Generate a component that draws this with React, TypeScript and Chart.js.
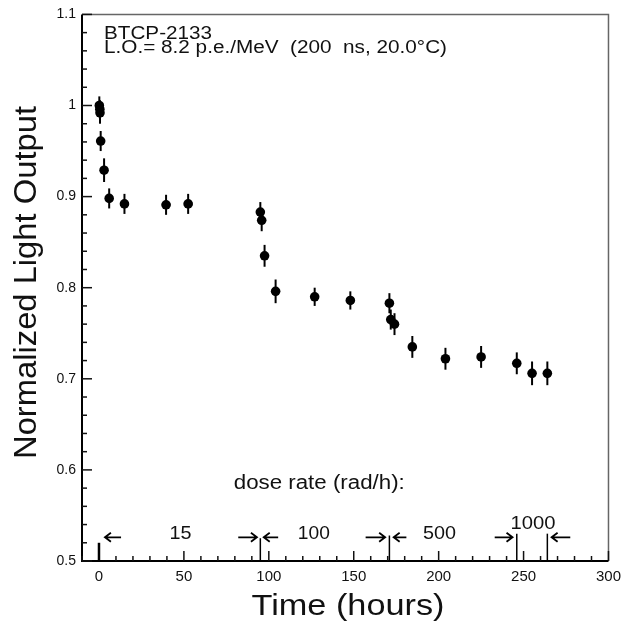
import React, { useEffect, useRef } from "react";
import { Chart, registerables } from "chart.js";
Chart.register(...registerables);

// ---- data ----
const timeHours = [0.2, 0.5, 0.6, 1, 3, 6, 15, 39.5, 52.5, 95, 95.8, 97.5, 104, 127, 148, 171, 171.8, 174, 184.5, 204, 225, 246, 255, 264];
const lightOutput = [1.0, 0.996, 0.992, 0.961, 0.929, 0.898, 0.892, 0.891, 0.892, 0.883, 0.874, 0.835, 0.796, 0.79, 0.786, 0.783, 0.765, 0.76, 0.735, 0.722, 0.724, 0.717, 0.706, 0.706];
const lightOutputErr = [0.01, 0.01, 0.012, 0.011, 0.013, 0.011, 0.011, 0.011, 0.011, 0.011, 0.012, 0.012, 0.013, 0.01, 0.01, 0.011, 0.011, 0.012, 0.012, 0.012, 0.012, 0.012, 0.013, 0.013];
const timeErr = [2, 2, 2, 2, 2, 2, 2.5, 2.5, 2.5, 2, 2, 2, 2, 2, 2, 2, 2, 2, 2, 2, 2, 2, 2, 2];

const xTickLabels = [0, 50, 100, 150, 200, 250, 300];
const yTickLabels = [0.5, 0.6, 0.7, 0.8, 0.9, 1.0, 1.1];

const doseBoundaries = [0, 95, 171, 246, 264];
const doseRateLabels = ["15", "100", "500", "1000"];
const doseRateLabelX = [48, 126.5, 200.5, 255.5];
const doseRateLabelY = [0.5237, 0.5237, 0.5237, 0.5346];
const doseLineTop = [0.52, 0.525, 0.528, 0.53, 0.53];
// arrows: [fromHour, toHour]
const doseArrows = [
  [13, 3.5],
  [82, 93],
  [105.5, 97],
  [157, 168.5],
  [181, 173.5],
  [233, 243.5],
  [277.5, 266.5],
];
const doseArrowY = 0.526;

const titleLine1 = "BTCP-2133";
const titleLine2 = "L.O.= 8.2 p.e./MeV  (200  ns, 20.0°C)";
const doseRateTitle = "dose rate (rad/h):";
const xTitle = "Time (hours)";
const yTitle = "Normalized Light Output";

const FONT = "'Liberation Sans', Arial, Helvetica, sans-serif";

function drawStretched(ctx: CanvasRenderingContext2D, text: string, x: number, y: number, size: number, width: number, align: "left" | "center") {
  ctx.save();
  ctx.font = `${size}px ${FONT}`;
  ctx.textBaseline = "alphabetic";
  ctx.textAlign = "left";
  const w = ctx.measureText(text).width;
  const sx = width / w;
  const left = align === "left" ? x : x - width / 2;
  ctx.translate(left, y);
  ctx.scale(sx, 1);
  ctx.fillText(text, 0, 0);
  ctx.restore();
}

const framePlugin = {
  id: "frameTicks",
  afterDatasetsDraw(chart: any) {
    const { ctx, chartArea: a, scales } = chart;
    const x = scales.x, y = scales.y;
    ctx.save();
    ctx.strokeStyle = "#666";
    ctx.lineWidth = 1.5;
    ctx.beginPath();
    ctx.moveTo(a.left, a.top);
    ctx.lineTo(a.right, a.top);
    ctx.lineTo(a.right, a.bottom);
    ctx.stroke();
    ctx.strokeStyle = "#000";
    ctx.lineWidth = 2;
    ctx.beginPath();
    ctx.moveTo(a.left, a.top);
    ctx.lineTo(a.left, a.bottom);
    ctx.lineTo(a.right, a.bottom);
    ctx.stroke();
    ctx.lineWidth = 1.5;
    ctx.strokeStyle = "#111";
    for (let v = -10; v <= 300; v += 10) {
      const px = x.getPixelForValue(v);
      const len = v % 50 === 0 ? 10 : 5;
      ctx.beginPath();
      ctx.moveTo(px, a.bottom);
      ctx.lineTo(px, a.bottom - len);
      ctx.stroke();
    }
    for (let k = 25; k <= 55; k++) {
      const v = k / 50;
      const py = y.getPixelForValue(v);
      const len = k % 5 === 0 ? 10 : 5;
      ctx.beginPath();
      ctx.moveTo(a.left, py);
      ctx.lineTo(a.left + len, py);
      ctx.stroke();
    }
    ctx.restore();
  },
};

const errorBarPlugin = {
  id: "errorBars",
  beforeDatasetsDraw(chart: any) {
    const { ctx, scales } = chart;
    const x = scales.x, y = scales.y;
    ctx.save();
    ctx.strokeStyle = "#000";
    timeHours.forEach((t, i) => {
      const px = x.getPixelForValue(t);
      const py = y.getPixelForValue(lightOutput[i]);
      ctx.lineWidth = 2;
      ctx.beginPath();
      ctx.moveTo(px, y.getPixelForValue(lightOutput[i] + lightOutputErr[i]));
      ctx.lineTo(px, y.getPixelForValue(lightOutput[i] - lightOutputErr[i]));
      ctx.stroke();
      ctx.lineWidth = 3;
      ctx.beginPath();
      ctx.moveTo(x.getPixelForValue(t - timeErr[i]), py);
      ctx.lineTo(x.getPixelForValue(t + timeErr[i]), py);
      ctx.stroke();
    });
    ctx.restore();
  },
};

const annotationPlugin = {
  id: "annotations",
  afterDraw(chart: any) {
    const { ctx, scales, chartArea: a } = chart;
    const x = scales.x, y = scales.y;
    ctx.save();
    ctx.fillStyle = "#111";
    ctx.strokeStyle = "#000";
    doseBoundaries.forEach((b, i) => {
      const px = x.getPixelForValue(b);
      ctx.lineWidth = i === 0 ? 2.5 : 1.5;
      ctx.beginPath();
      ctx.moveTo(px, a.bottom);
      ctx.lineTo(px, y.getPixelForValue(doseLineTop[i]));
      ctx.stroke();
    });
    const ay = y.getPixelForValue(doseArrowY);
    ctx.lineWidth = 1.8;
    doseArrows.forEach(([f, t]) => {
      const x1 = x.getPixelForValue(f);
      const x2 = x.getPixelForValue(t);
      const dir = x2 > x1 ? 1 : -1;
      ctx.beginPath();
      ctx.moveTo(x1, ay);
      ctx.lineTo(x2, ay);
      ctx.moveTo(x2 - dir * 6, ay - 4.5);
      ctx.lineTo(x2, ay);
      ctx.lineTo(x2 - dir * 6, ay + 4.5);
      ctx.stroke();
    });
    const widths = [22, 32, 33, 45];
    doseRateLabels.forEach((lab, i) => {
      drawStretched(ctx, lab, x.getPixelForValue(doseRateLabelX[i]), y.getPixelForValue(doseRateLabelY[i]), 19, widths[i], "center");
    });
    drawStretched(ctx, doseRateTitle, x.getPixelForValue(129.7), y.getPixelForValue(0.5794), 19.5, 171, "center");
    drawStretched(ctx, titleLine1, 104, 39, 18.5, 108, "left");
    drawStretched(ctx, titleLine2, 104, 53, 18, 343, "left");
    drawStretched(ctx, xTitle, 348, 615, 30, 193, "center");
    ctx.save();
    ctx.translate(36, 282.5);
    ctx.rotate(-Math.PI / 2);
    drawStretched(ctx, yTitle, 0, 0, 31, 353, "center");
    ctx.restore();
    ctx.restore();
  },
};

export default function App() {
  const ref = useRef<HTMLCanvasElement | null>(null);
  useEffect(() => {
    if (!ref.current) return;
    const chart = new Chart(ref.current, {
      type: "scatter",
      data: {
        datasets: [
          {
            data: timeHours.map((t, i) => ({ x: t, y: lightOutput[i] })),
            backgroundColor: "#000",
            borderColor: "#000",
            pointRadius: 4.8,
            pointBorderWidth: 0,
          },
        ],
      },
      options: {
        animation: false,
        responsive: true,
        maintainAspectRatio: false,
        events: [],
        layout: { padding: { top: 12, right: 15, left: 0, bottom: 0 } },
        plugins: { legend: { display: false }, tooltip: { enabled: false } },
        scales: {
          x: {
            type: "linear",
            min: -10,
            max: 300,
            grid: { display: false, drawTicks: false },
            border: { display: false },
            afterBuildTicks: (s: any) => {
              s.ticks = xTickLabels.map((v) => ({ value: v }));
            },
            afterFit: (s: any) => {
              s.height = 62;
            },
            ticks: {
              padding: 7,
              color: "#111",
              font: { family: FONT, size: 15 },
              maxRotation: 0,
              callback: (v: any) => String(v),
            },
          },
          y: {
            type: "linear",
            min: 0.5,
            max: 1.1,
            grid: { display: false, drawTicks: false },
            border: { display: false },
            afterBuildTicks: (s: any) => {
              s.ticks = yTickLabels.map((v) => ({ value: v }));
            },
            afterFit: (s: any) => {
              s.width = 82;
            },
            ticks: {
              padding: 6,
              color: "#111",
              font: { family: FONT, size: 14 },
              callback: (v: any) => String(Number(Number(v).toFixed(1))),
            },
          },
        },
      },
      plugins: [errorBarPlugin, framePlugin, annotationPlugin],
    } as any);
    return () => chart.destroy();
  }, []);
  return (
    <div style={{ position: "fixed", left: 0, top: 0, width: 628, height: 623, background: "#fff" }}>
      <canvas ref={ref} />
    </div>
  );
}
